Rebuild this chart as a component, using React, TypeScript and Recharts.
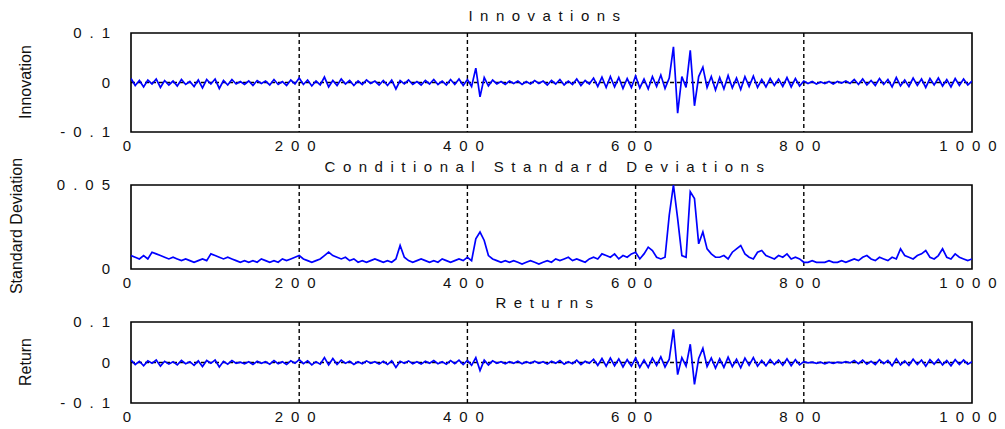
import React from 'react';
import { LineChart, Line, XAxis, YAxis, CartesianGrid, ReferenceArea, Label } from 'recharts';

// Sampled every 5 time steps (t = 0, 5, ..., 1000)
const STEP = 5;

const innovation = [
  0.008, -0.006, 0.004, -0.009, 0.005, -0.003, 0.007, -0.010, 0.004, -0.005,
  0.003, -0.007, 0.006, -0.004, 0.002, -0.008, 0.005, -0.011, 0.006, -0.003,
  0.007, -0.012, 0.004, -0.005, 0.006, -0.003, 0.002, -0.004, 0.003, -0.006,
  0.004, -0.002, 0.003, -0.005, 0.006, -0.004, 0.002, -0.006, 0.005, -0.003,
  0.009, -0.004, 0.005, -0.007, 0.003, -0.005, 0.011, -0.009, 0.004, -0.006,
  0.007, -0.003, 0.004, -0.006, 0.003, -0.004, 0.005, -0.002, 0.003, -0.005,
  0.004, -0.006, 0.005, -0.013, 0.004, -0.003, 0.005, -0.004, 0.002, -0.005,
  0.004, -0.003, 0.006, -0.004, 0.003, -0.005, 0.006, -0.004, 0.007, -0.006,
  0.006, -0.008, 0.029, -0.029, 0.010, -0.007, 0.005, -0.003, 0.002, -0.004,
  0.003, -0.002, 0.003, -0.004, 0.002, -0.003, 0.004, -0.002, 0.003, -0.005,
  0.004, -0.003, 0.006, -0.005, 0.003, -0.004, 0.007, -0.006, 0.004, -0.003,
  0.009, -0.008, 0.011, -0.010, 0.012, -0.009, 0.010, -0.012, 0.008, -0.010,
  0.013, -0.011, 0.007, -0.013, 0.012, -0.008, 0.015, -0.012, 0.009, 0.072,
  -0.062, 0.012, -0.010, 0.065, -0.047, 0.012, 0.031, -0.010, 0.012, -0.015,
  0.010, -0.013, 0.014, -0.011, 0.009, -0.014, 0.012, -0.008, 0.013, -0.010,
  0.006, -0.009, 0.008, -0.006, 0.007, -0.008, 0.010, -0.009, 0.008, -0.007,
  0.003, -0.002, 0.002, -0.003, 0.001, -0.002, 0.002, -0.003, 0.002, -0.001,
  0.003, -0.002, 0.006, -0.004, 0.007, -0.005, 0.004, -0.006, 0.008, -0.004,
  0.006, -0.009, 0.010, -0.007, 0.005, -0.008, 0.009, -0.006, 0.007, -0.010,
  0.008, -0.005, 0.009, -0.007, 0.006, -0.009, 0.008, -0.006, 0.007, -0.005, 0.003,
];

const condStd = [
  0.008, 0.007, 0.006, 0.008, 0.006, 0.010, 0.009, 0.008, 0.007, 0.006,
  0.007, 0.006, 0.005, 0.006, 0.005, 0.004, 0.005, 0.006, 0.005, 0.009,
  0.008, 0.007, 0.006, 0.007, 0.006, 0.005, 0.004, 0.005, 0.004, 0.005,
  0.004, 0.006, 0.005, 0.004, 0.005, 0.004, 0.006, 0.005, 0.006, 0.007,
  0.008, 0.006, 0.005, 0.004, 0.005, 0.006, 0.008, 0.010, 0.008, 0.007,
  0.006, 0.007, 0.005, 0.006, 0.004, 0.005, 0.004, 0.005, 0.006, 0.005,
  0.004, 0.005, 0.004, 0.006, 0.014, 0.007, 0.005, 0.004, 0.005, 0.006,
  0.005, 0.004, 0.005, 0.004, 0.006, 0.005, 0.004, 0.005, 0.006, 0.005,
  0.007, 0.005, 0.018, 0.022, 0.017, 0.008, 0.006, 0.005, 0.004, 0.005,
  0.004, 0.005, 0.004, 0.003, 0.004, 0.005, 0.004, 0.003, 0.004, 0.005,
  0.004, 0.006, 0.005, 0.006, 0.007, 0.005, 0.006, 0.005, 0.004, 0.006,
  0.007, 0.006, 0.009, 0.008, 0.007, 0.009, 0.006, 0.008, 0.007, 0.009,
  0.010, 0.006, 0.009, 0.013, 0.011, 0.007, 0.006, 0.007, 0.032, 0.050,
  0.030, 0.008, 0.007, 0.046, 0.042, 0.015, 0.022, 0.012, 0.009, 0.007,
  0.007, 0.008, 0.006, 0.010, 0.012, 0.014, 0.009, 0.007, 0.006, 0.010,
  0.011, 0.008, 0.007, 0.006, 0.008, 0.007, 0.009, 0.006, 0.007, 0.006,
  0.004, 0.004, 0.005, 0.004, 0.004, 0.004, 0.005, 0.004, 0.004, 0.005,
  0.004, 0.005, 0.006, 0.005, 0.007, 0.008, 0.006, 0.005, 0.007, 0.006,
  0.005, 0.007, 0.006, 0.012, 0.008, 0.007, 0.006, 0.008, 0.009, 0.011,
  0.007, 0.006, 0.008, 0.012, 0.007, 0.006, 0.009, 0.007, 0.006, 0.005, 0.006,
];

const returnsSeries = [
  0.006, -0.005, 0.003, -0.008, 0.004, -0.002, 0.006, -0.009, 0.003, -0.004,
  0.002, -0.006, 0.005, -0.003, 0.002, -0.007, 0.004, -0.010, 0.005, -0.002,
  0.006, -0.011, 0.003, -0.004, 0.005, -0.002, 0.001, -0.003, 0.002, -0.005,
  0.003, -0.002, 0.002, -0.004, 0.005, -0.003, 0.002, -0.005, 0.004, -0.002,
  0.007, -0.003, 0.004, -0.006, 0.002, -0.004, 0.012, -0.006, 0.010, -0.005,
  0.006, -0.002, 0.003, -0.005, 0.002, -0.003, 0.004, -0.002, 0.002, -0.004,
  0.003, -0.005, 0.004, -0.012, 0.003, -0.002, 0.004, -0.003, 0.002, -0.004,
  0.003, -0.002, 0.005, -0.003, 0.002, -0.004, 0.005, -0.003, 0.006, -0.005,
  0.005, -0.007, 0.012, -0.020, 0.006, -0.006, 0.004, -0.002, 0.002, -0.003,
  0.002, -0.002, 0.003, -0.003, 0.002, -0.002, 0.003, -0.002, 0.002, -0.004,
  0.003, -0.002, 0.005, -0.004, 0.002, -0.003, 0.006, -0.005, 0.003, -0.002,
  0.008, -0.007, 0.010, -0.009, 0.011, -0.008, 0.009, -0.011, 0.007, -0.009,
  0.011, -0.012, 0.006, -0.012, 0.011, -0.007, 0.014, -0.011, 0.008, 0.082,
  -0.030, 0.012, -0.009, 0.045, -0.054, 0.010, 0.035, -0.010, 0.011, -0.014,
  0.009, -0.012, 0.013, -0.010, 0.008, -0.013, 0.011, -0.007, 0.012, -0.009,
  0.005, -0.008, 0.007, -0.005, 0.006, -0.007, 0.009, -0.008, 0.007, -0.006,
  0.002, -0.001, 0.001, -0.002, 0.001, -0.003, 0.001, -0.002, 0.001, -0.001,
  0.002, -0.001, 0.005, -0.003, 0.006, -0.004, 0.003, -0.005, 0.007, -0.003,
  0.005, -0.008, 0.009, -0.006, 0.004, -0.007, 0.008, -0.005, 0.006, -0.009,
  0.007, -0.004, 0.008, -0.006, 0.005, -0.008, 0.007, -0.005, 0.006, -0.004, 0.002,
];

const xTicks = [0, 200, 400, 600, 800, 1000];
const gridX = [200, 400, 600, 800];
const innovTicks = [-0.1, 0, 0.1];
const stdTicks = [0, 0.05];
const returnTicks = [-0.1, 0, 0.1];

const W = 1005;
const H = 429;
const FONT = '"Liberation Sans", Arial, Helvetica, sans-serif';

const XTick = (p: any) => (
  <text x={p.x} y={p.y} dy="0.71em" textAnchor="middle" fontSize={15} fontFamily={FONT} letterSpacing={8} fill="#111">
    {String(p.payload.value)}
  </text>
);

const YTick = (p: any) => (
  <text x={p.x} y={p.y} dy="0.36em" textAnchor="end" fontSize={15} fontFamily={FONT} letterSpacing={8} fill="#111">
    {String(p.payload.value)}
  </text>
);

type PanelProps = {
  values: number[];
  yDomain: [number, number];
  yTicks: number[];
  title: string;
  yLabel: string;
  top: number;
  bottom: number;
  titleY: number;
  labelX: number;
  labelY: number;
  zeroGrid: boolean;
};

const X_AXIS_H = 20;

function Panel(props: PanelProps) {
  const { values, yDomain, yTicks, title, yLabel, top, bottom, titleY, labelX, labelY, zeroGrid } = props;
  const data = values.map((v, i) => ({ t: i * STEP, v }));
  return (
    <div style={{ position: 'absolute', left: 0, top: 0 }}>
      <LineChart width={W} height={H} data={data} margin={{ top, right: 33, bottom: H - bottom - X_AXIS_H, left: 71 }}>
        <CartesianGrid
          stroke="#000"
          strokeWidth={1.4}
          strokeDasharray="4 3"
          vertical={true}
          verticalValues={gridX}
          horizontal={zeroGrid}
          {...(zeroGrid ? { horizontalValues: [0] } : {})}
        />
        <ReferenceArea x1={0} x2={1000} y1={yDomain[0]} y2={yDomain[1]} fill="none" fillOpacity={0} stroke="#000" strokeWidth={1.6} ifOverflow="visible" />
        <XAxis
          dataKey="t"
          type="number"
          domain={[0, 1000]}
          ticks={xTicks}
          interval={0}
          height={X_AXIS_H}
          tickSize={0}
          tickMargin={8}
          axisLine={false}
          tickLine={false}
          tick={XTick}
          allowDataOverflow
        >
          <Label
            content={() => (
              <text x={548} y={titleY} textAnchor="middle" fontSize={15} fontFamily={FONT} letterSpacing={7.5} fill="#111">
                {title}
              </text>
            )}
          />
        </XAxis>
        <YAxis
          type="number"
          domain={yDomain}
          ticks={yTicks}
          interval={0}
          width={60}
          tickSize={0}
          tickMargin={13}
          axisLine={false}
          tickLine={false}
          tick={YTick}
          allowDataOverflow
        >
          <Label
            content={() => (
              <text transform={`translate(${labelX},${labelY}) rotate(-90)`} textAnchor="middle" fontSize={16} fontFamily={FONT} fill="#111">
                {yLabel}
              </text>
            )}
          />
        </YAxis>
        <Line type="linear" dataKey="v" stroke="#0000ff" strokeWidth={1.7} dot={false} isAnimationActive={false} />
      </LineChart>
    </div>
  );
}

export default function App() {
  return (
    <div style={{ position: 'absolute', left: 0, top: 0, width: W, height: H, background: '#fff', overflow: 'hidden' }}>
      <Panel values={innovation} yDomain={[-0.1, 0.1]} yTicks={innovTicks} title="Innovations" yLabel="Innovation"
        top={33} bottom={132} titleY={21} labelX={31} labelY={82} zeroGrid={true} />
      <Panel values={condStd} yDomain={[0, 0.05]} yTicks={stdTicks} title="Conditional Standard Deviations" yLabel="Standard Deviation"
        top={185} bottom={269} titleY={172} labelX={22} labelY={226} zeroGrid={false} />
      <Panel values={returnsSeries} yDomain={[-0.1, 0.1]} yTicks={returnTicks} title="Returns" yLabel="Return"
        top={322} bottom={403} titleY={308} labelX={31} labelY={362} zeroGrid={true} />
    </div>
  );
}
